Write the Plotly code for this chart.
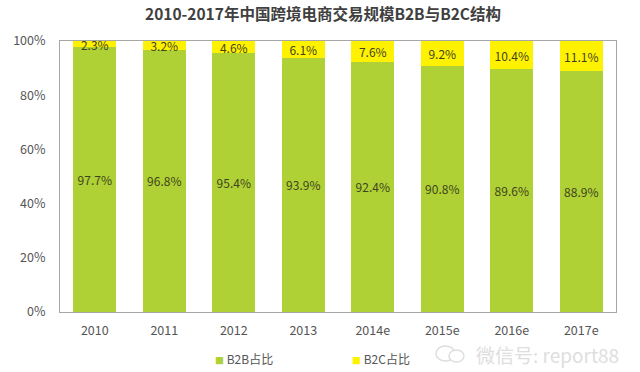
import plotly.graph_objects as go

years = ["2010", "2011", "2012", "2013", "2014e", "2015e", "2016e", "2017e"]
b2b = [97.7, 96.8, 95.4, 93.9, 92.4, 90.8, 89.6, 88.9]
b2c = [2.3, 3.2, 4.6, 6.1, 7.6, 9.2, 10.4, 11.1]
tick_vals = [0, 20, 40, 60, 80, 100]
FONT = "Noto Sans CJK SC, Open Sans, sans-serif"
GREEN = "#AFD135"
YELLOW = "#FFF200"
WM = "#DEDEDE"

def px(X):
    return (X - 60) / 556

def py(Y):
    return (312 - Y) / 271

fig = go.Figure()
fig.add_bar(x=years, y=b2b, name="B2B占比", marker=dict(color=GREEN, line_width=0),
            text=[f"{v}%" for v in b2b], textposition="inside", insidetextanchor="middle",
            textangle=0, constraintext="none", textfont=dict(size=12, color="#3F4420", family=FONT))
fig.add_bar(x=years, y=b2c, name="B2C占比", marker=dict(color=YELLOW, line_width=0),
            text=[f"{v}%" for v in b2c], textposition="inside", insidetextanchor="middle",
            textangle=0, constraintext="none", textfont=dict(size=12, color="#3F4420", family=FONT))

def legend_item(x, color, name):
    return dict(text=f'<span style="color:{color};font-size:9px">■</span> {name}', x=px(x), y=py(358),
                xref="paper", yref="paper", xanchor="left", yanchor="middle", showarrow=False,
                font=dict(size=12, color="#555555", family=FONT))

fig.update_layout(
    barmode="stack", bargap=0.38, width=640, height=372, showlegend=False,
    margin=dict(l=60, r=24, t=41, b=60, autoexpand=False),
    plot_bgcolor="white", paper_bgcolor="white",
    font=dict(family=FONT, size=12, color="#555555"),
    title=dict(text="<b>2010-2017年中国跨境电商交易规模B2B与B2C结构</b>", x=px(323), xref="paper", xanchor="center",
               y=1 - 15 / 372, yanchor="middle", font=dict(size=15.5, color="#404040", family=FONT)),
    xaxis=dict(showline=True, linecolor="#A6A6A6", linewidth=1, mirror=True, ticks="", showgrid=False,
               ticklabelstandoff=7, tickfont=dict(size=12.5, color="#555555")),
    yaxis=dict(range=[0, 100], tickvals=tick_vals, ticktext=[f"{v}%" for v in tick_vals], showline=True,
               linecolor="#A6A6A6", linewidth=1, mirror=True, ticks="", showgrid=False,
               ticklabelstandoff=11, tickfont=dict(size=12.5, color="#555555")),
    annotations=[
        legend_item(213, GREEN, "B2B占比"),
        legend_item(350, YELLOW, "B2C占比"),
        dict(text="微信号: report88", x=px(621), y=py(354), xref="paper", yref="paper", xanchor="right",
             yanchor="middle", showarrow=False, font=dict(size=19, color=WM, family=FONT)),
    ],
    shapes=[
        dict(type="circle", xref="paper", yref="paper", x0=px(436), x1=px(455), y0=py(361), y1=py(346),
             line=dict(color=WM, width=1.5), fillcolor="rgba(0,0,0,0)"),
        dict(type="circle", xref="paper", yref="paper", x0=px(449), x1=px(464), y0=py(362), y1=py(350),
             line=dict(color=WM, width=1.5), fillcolor="white"),
    ],
)
fig.write_html("out.html", config={"displayModeBar": False},
               post_script="document.body.style.margin='0';document.documentElement.style.overflow='hidden';")
